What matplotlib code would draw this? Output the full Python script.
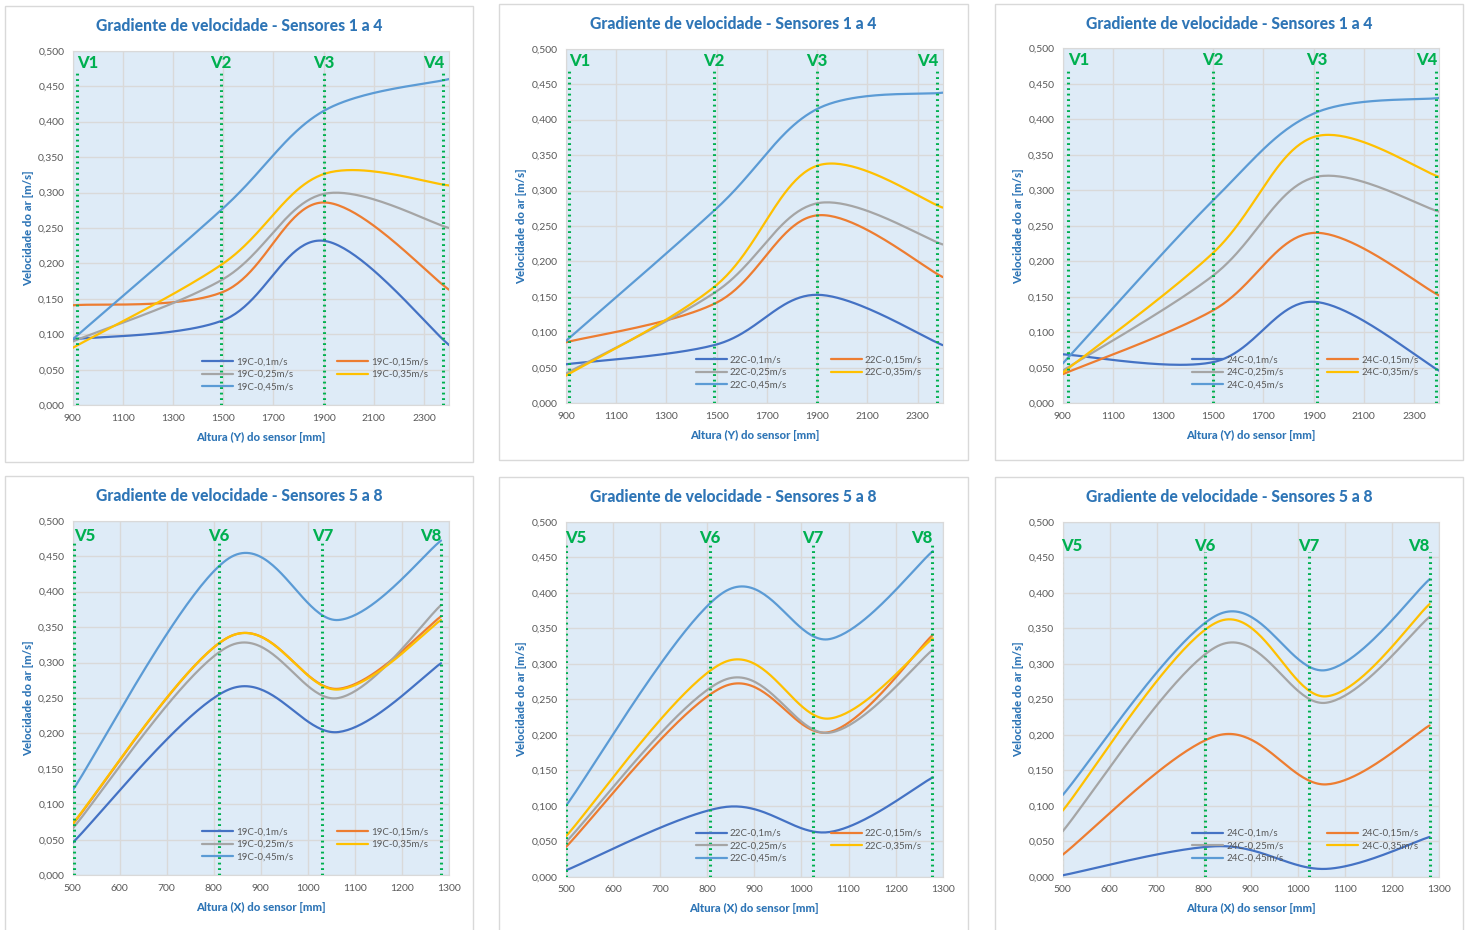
import matplotlib
matplotlib.use('Agg')
import matplotlib.pyplot as plt
import numpy as np
from matplotlib.patches import Rectangle
from matplotlib.ticker import FuncFormatter, MultipleLocator

plt.rcParams['font.family'] = ['Lato', 'DejaVu Sans']

# series names (airflow) and temperatures per panel
speeds = ['0,1m/s', '0,15m/s', '0,25m/s', '0,35m/s', '0,45m/s']
temps = ['19C', '22C', '24C']
colors = ['#4472C4', '#ED7D31', '#A5A5A5', '#FFC000', '#5B9BD5']

# sensors 1 to 4 (height Y)
y_pos = [900, 1500, 1900, 2400]
y_19c = [[0.093, 0.120, 0.232, 0.085],
         [0.141, 0.160, 0.286, 0.163],
         [0.090, 0.178, 0.298, 0.250],
         [0.081, 0.200, 0.326, 0.310],
         [0.093, 0.278, 0.415, 0.460]]
y_22c = [[0.055, 0.083, 0.153, 0.082],
         [0.086, 0.142, 0.265, 0.178],
         [0.042, 0.158, 0.282, 0.224],
         [0.039, 0.167, 0.335, 0.276],
         [0.088, 0.275, 0.415, 0.438]]
y_24c = [[0.069, 0.058, 0.143, 0.046],
         [0.041, 0.131, 0.240, 0.152],
         [0.046, 0.180, 0.318, 0.270],
         [0.043, 0.212, 0.375, 0.319],
         [0.056, 0.286, 0.408, 0.430]]

# sensors 5 to 8 (position X)
x_pos = [[500, 832, 1065, 1283],
         [500, 835, 1060, 1279],
         [500, 830, 1060, 1280]]
x_19c = [[0.046, 0.262, 0.202, 0.299],
         [0.072, 0.336, 0.263, 0.365],
         [0.066, 0.323, 0.250, 0.381],
         [0.073, 0.336, 0.262, 0.360],
         [0.120, 0.447, 0.360, 0.472]]
x_22c = [[0.009, 0.098, 0.063, 0.140],
         [0.042, 0.268, 0.204, 0.341],
         [0.049, 0.277, 0.203, 0.320],
         [0.057, 0.302, 0.223, 0.336],
         [0.100, 0.401, 0.335, 0.459]]
x_24c = [[0.002, 0.043, 0.011, 0.056],
         [0.031, 0.199, 0.130, 0.213],
         [0.064, 0.325, 0.245, 0.366],
         [0.093, 0.359, 0.254, 0.384],
         [0.115, 0.369, 0.291, 0.419]]

# where the V marker lines sit
vlines_top = [[916, 1490, 1903, 2377], [912, 1489, 1900, 2376], [920, 1500, 1914, 2387]]
vlines_bot = [[503, 810, 1031, 1284], [499, 805, 1025, 1278], [497, 803, 1024, 1280]]

BLUE = '#2E75B6'
GREEN = '#00B050'
GRAY = '#595959'
W, H = 1470, 930


def smooth(xs, ys, n=50):
    # excel-like smoothed line: bezier segments with catmull-rom control points
    p = np.column_stack([xs, ys]).astype(float)
    p = np.vstack([p[0], p, p[-1]])
    out = []
    t = np.linspace(0, 1, n)[:, None]
    for i in range(1, len(p) - 2):
        p0, p1, p2, p3 = p[i - 1], p[i], p[i + 1], p[i + 2]
        c1 = p1 + (p2 - p0) / 6
        c2 = p2 - (p3 - p1) / 6
        seg = ((1 - t) ** 3) * p1 + 3 * ((1 - t) ** 2) * t * c1 + 3 * (1 - t) * t ** 2 * c2 + t ** 3 * p2
        out.append(seg if i == 1 else seg[1:])
    out = np.vstack(out)
    return out[:, 0], out[:, 1]


def fx(px):
    return px / W


def fy(py):
    return 1 - py / H


fig = plt.figure(figsize=(14.7, 9.3), dpi=100)

boxes = [(5, 6, 473, 462), (499, 4, 968, 460), (995, 4, 1463, 460),
         (5, 476, 473, 960), (499, 477, 968, 960), (995, 477, 1463, 960)]
plots = [(72.7, 50.7, 449, 405.3), (566, 48.7, 942.7, 403.3), (1062.7, 48.3, 1439, 403.3),
         (72.7, 520.7, 449, 875.3), (566, 522, 942.7, 876.7), (1062.7, 521.7, 1439, 876.7)]

panels = [(y_pos, y_19c, '19C', 'Y', vlines_top[0], ['V1', 'V2', 'V3', 'V4']),
          (y_pos, y_22c, '22C', 'Y', vlines_top[1], ['V1', 'V2', 'V3', 'V4']),
          (y_pos, y_24c, '24C', 'Y', vlines_top[2], ['V1', 'V2', 'V3', 'V4']),
          (x_pos[0], x_19c, '19C', 'X', vlines_bot[0], ['V5', 'V6', 'V7', 'V8']),
          (x_pos[1], x_22c, '22C', 'X', vlines_bot[1], ['V5', 'V6', 'V7', 'V8']),
          (x_pos[2], x_24c, '24C', 'X', vlines_bot[2], ['V5', 'V6', 'V7', 'V8'])]
vtop = [0.469, 0.469, 0.469, 0.472, 0.472, 0.458]
vlab = [0.482, 0.482, 0.484, 0.479, 0.477, 0.466]

fmt = FuncFormatter(lambda v, _: f'{v:.3f}'.replace('.', ','))

for k, (xs, data, temp, axis_name, vls, vnames) in enumerate(panels):
    bx0, by0, bx1, by1 = boxes[k]
    fig.patches.append(Rectangle((fx(bx0), fy(by1)), fx(bx1 - bx0), (by1 - by0) / H,
                                 transform=fig.transFigure, facecolor='white',
                                 edgecolor='#D9D9D9', lw=1, zorder=-5))
    px0, py0, px1, py1 = plots[k]
    ax = fig.add_axes([fx(px0), fy(py1), fx(px1 - px0), (py1 - py0) / H])
    ax.set_zorder(2)
    ax.set_facecolor('#DEEBF7')

    top = k < 3
    if top:
        ax.set_xlim(900, 2400)
        ax.set_xticks(np.arange(900, 2400, 200))
    else:
        ax.set_xlim(500, 1300)
        ax.set_xticks(np.arange(500, 1301, 100))
    ax.set_ylim(0, 0.5)
    ax.yaxis.set_major_locator(MultipleLocator(0.05))
    ax.yaxis.set_major_formatter(fmt)
    ax.grid(True, color='#D9D9D9', lw=1)
    ax.set_axisbelow(True)
    for s in ax.spines.values():
        s.set_color('#D9D9D9')
    ax.tick_params(length=0, labelsize=7.5, labelcolor=GRAY, pad=6)

    lines = []
    for i, ys in enumerate(data):
        sx, sy = smooth(xs, ys)
        ln, = ax.plot(sx, sy, color=colors[i], lw=1.6, zorder=3,
                      label=f'{temp}-{speeds[i]}', solid_capstyle='round')
        lines.append(ln)

    for j, (vx, vn) in enumerate(zip(vls, vnames)):
        ax.plot([vx, vx], [0, vtop[k]], color=GREEN, lw=2.2, ls=(0, (0.6, 1.2)), zorder=4)
        ha = ['left', 'center', 'center', 'right'][j]
        off = [0.0, 0.0, 0.0, 5][j] if top else 0.0
        ax.text(vx + off, vlab[k], vn, color=GREEN, fontsize=12, fontweight='black',
                ha=ha, va='center', zorder=5)

    order = [0, 2, 4, 1, 3]
    leg = ax.legend([lines[i] for i in order], [lines[i].get_label() for i in order],
                    ncol=2, loc='lower center', bbox_to_anchor=(0.645, 0.025),
                    frameon=False, fontsize=7, handlelength=3.2, columnspacing=4.5,
                    labelspacing=0.35, handletextpad=0.3, borderpad=0)
    for t in leg.get_texts():
        t.set_color(GRAY)

    title = 'Gradiente de velocidade - Sensores 1 a 4' if top else 'Gradiente de velocidade - Sensores 5 a 8'
    fig.text(fx((bx0 + bx1) / 2), fy(by0 + 20), title, color=BLUE, fontsize=11.3,
             fontweight='black', ha='center', va='center')
    fig.text(fx((px0 + px1) / 2), fy(py1 + 32), f'Altura ({axis_name}) do sensor [mm]',
             color=BLUE, fontsize=8.2, fontweight='black', ha='center', va='center')
    fig.text(fx(px0 - 44), fy((py0 + py1) / 2), 'Velocidade do ar [m/s]', color=BLUE,
             fontsize=8.2, fontweight='black', ha='center', va='center', rotation=90)

fig.savefig('out.png', dpi=100, facecolor='white')
